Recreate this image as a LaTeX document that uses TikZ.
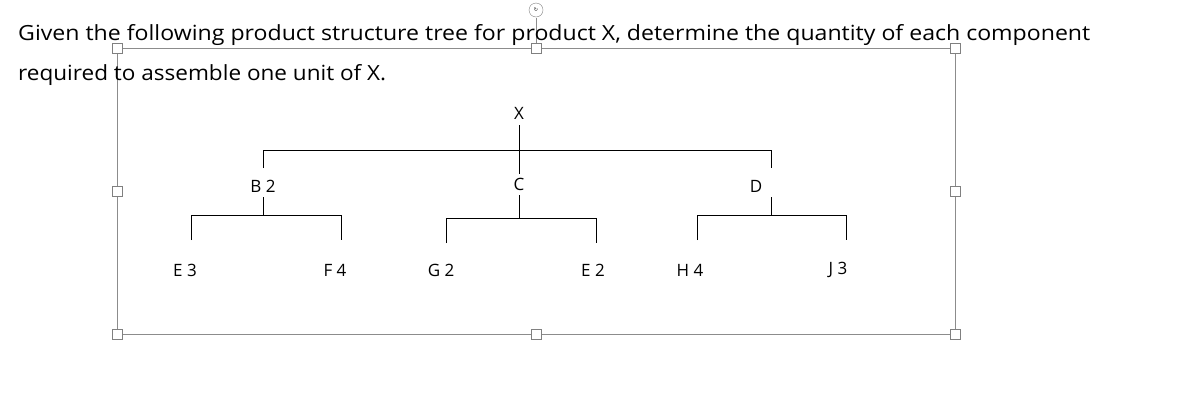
\documentclass[tikz,border=0pt]{standalone}
\usepackage{fontspec}
\setmainfont{Open Sans}
\newfontfamily\symfont{DejaVu Sans}
\begin{document}
\begin{tikzpicture}[x=1pt,y=-1pt,
  lbl/.style={font=\fontsize{17}{20}\selectfont,inner sep=0pt},
  tline/.style={line width=1pt,black},
  handle/.style={draw=gray,fill=white,minimum size=10pt,inner sep=0pt,line width=0.8pt},
  frame/.style={draw=gray!90,line width=1pt}]
\useasboundingbox (0,0) rectangle (1190,400);
% frame and handles
\draw[frame] (117,48) rectangle (955,334);
\draw[frame] (536,48) -- (536,18);
\node[circle,draw=gray,fill=white,minimum size=14pt,inner sep=0pt,font=\symfont\tiny] (rot) at (536,10) {↻};
\foreach \x/\y [count=\i] in {117/48,536/48,955/48,117/191,955/191,117/334,536/334,955/334}
  \node[handle] (h\i) at (\x,\y) {};
% text
\node[lbl,anchor=base west] (t1) at (18,40) {\resizebox{1072pt}{16pt}{Given the following product structure tree for product X, determine the quantity of each component}};
\node[lbl,anchor=base west] (t2) at (18,80) {\resizebox{368pt}{16pt}{required to assemble one unit of X.}};
% tree
\node[lbl] (X) at (519,113) {X};
\node[lbl] (B) at (263,186) {B 2};
\node[lbl] (C) at (519,184) {C};
\node[lbl] (D) at (756,186) {D};
\node[lbl] (E3) at (185,270) {E 3};
\node[lbl] (F4) at (335,270) {F 4};
\node[lbl] (G2) at (441,270) {G 2};
\node[lbl] (E2) at (593,270) {E 2};
\node[lbl] (H4) at (690,270) {H 4};
\node[lbl] (J3) at (838,270) {J 3};
\draw[tline] (519,125) -- (519,174);
\draw[tline] (263,168) -- (263,150) -- (771,150) -- (771,168);
\draw[tline] (263,197) -- (263,215);
\draw[tline] (191,240) -- (191,215) -- (341,215) -- (341,240);
\draw[tline] (519,195) -- (519,218);
\draw[tline] (446,243) -- (446,218) -- (596,218) -- (596,243);
\draw[tline] (771,197) -- (771,215);
\draw[tline] (697,240) -- (697,215) -- (846,215) -- (846,240);
\end{tikzpicture}
\end{document}
